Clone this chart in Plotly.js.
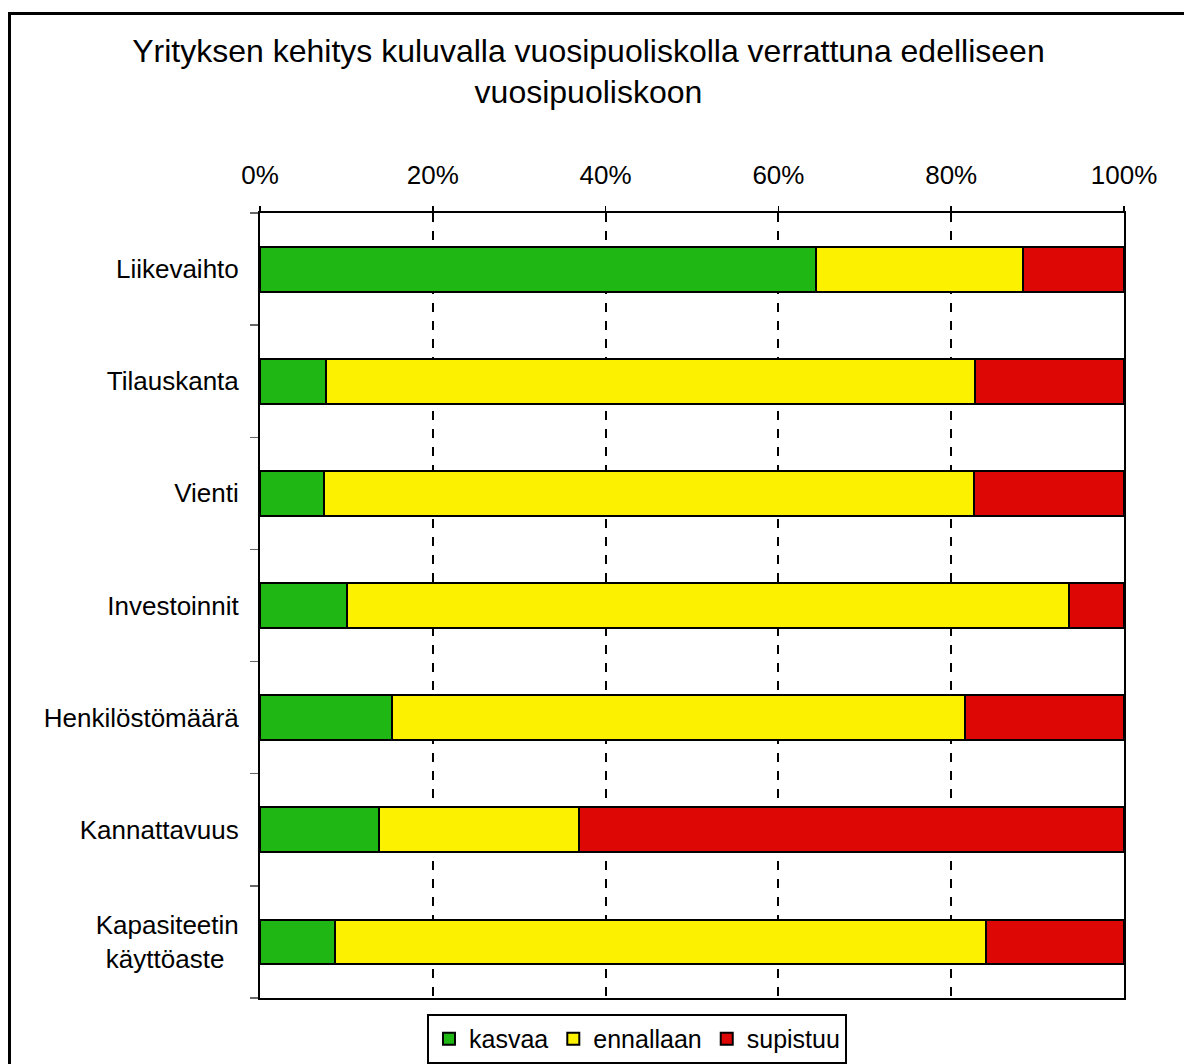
<!DOCTYPE html>
<html>
<head>
<meta charset="utf-8">
<script src="https://cdn.plot.ly/plotly-3.0.1.min.js"></script>
<style>
  html, body { margin: 0; padding: 0; background: #fff; }
  #frame { position: absolute; left: 8px; top: 12px; width: 1200px; height: 1100px; border: 3px solid #000; box-sizing: border-box; }
  #chart { position: absolute; left: 0; top: 0; width: 1184px; height: 1064px; }
</style>
</head>
<body>
<div id="frame"></div>
<div id="chart"></div>
<script>
const categories = ["Liikevaihto", "Tilauskanta", "Vienti", "Investoinnit", "Henkilöstömäärä", "Kannattavuus", "Kapasiteetin käyttöaste"];
const tickLabels = ["Liikevaihto", "Tilauskanta", "Vienti", "Investoinnit", "Henkilöstömäärä", "Kannattavuus", "Kapasiteetin<br>käyttöaste\u00a0\u00a0"];
const kasvaa    = [64.4, 7.6, 7.4, 10.1, 15.3, 13.8, 8.7];
const ennallaan = [23.9, 75.2, 75.2, 83.5, 66.3, 23.1, 75.3];
const supistuu  = [11.7, 17.2, 17.4, 6.4, 18.4, 63.1, 16.0];
const seriesNames = ["kasvaa", "ennallaan", "supistuu"];
const seriesColors = ["#1FB714", "#FCF200", "#DD0806"];
const seriesValues = [kasvaa, ennallaan, supistuu];

const fontFam = "Liberation Sans, Arial, Helvetica, sans-serif";

const traces = seriesValues.map((vals, i) => ({
  type: "bar",
  orientation: "h",
  name: seriesNames[i],
  y: categories,
  x: vals,
  width: 0.4,
  marker: { color: seriesColors[i], line: { color: "#000", width: 2 } },
  hoverinfo: "x+name"
}));

const layout = {
  width: 1184,
  height: 1064,
  barmode: "stack",
  paper_bgcolor: "rgba(0,0,0,0)",
  plot_bgcolor: "#fff",
  margin: { l: 260, r: 60, t: 213, b: 66, autoexpand: false },
  font: { family: fontFam, color: "#000", size: 24 },
  title: {
    text: "Yrityksen kehitys kuluvalla vuosipuoliskolla verrattuna edelliseen<br>vuosipuoliskoon",
    font: { family: fontFam, size: 32, color: "#000" },
    xref: "container", x: 0.497, xanchor: "center",
    yref: "container", y: 0.942, yanchor: "top"
  },
  xaxis: {
    side: "top",
    range: [0, 100],
    dtick: 20,
    ticksuffix: "%",
    ticks: "outside",
    ticklen: 5,
    tickwidth: 1.5,
    tickcolor: "#000",
    ticklabelstandoff: 12,
    showline: true,
    linecolor: "#000",
    linewidth: 2,
    mirror: true,
    showgrid: true,
    gridcolor: "#000",
    gridwidth: 2,
    griddash: "dash",
    zeroline: false,
    tickfont: { family: fontFam, size: 26, color: "#000" },
    fixedrange: true
  },
  yaxis: {
    type: "category",
    autorange: "reversed",
    tickson: "boundaries",
    tickmode: "array",
    tickvals: categories,
    ticktext: tickLabels,
    ticks: "outside",
    ticklen: 8,
    tickwidth: 1.5,
    tickcolor: "#666",
    showline: true,
    linecolor: "#000",
    linewidth: 2,
    mirror: true,
    showgrid: false,
    zeroline: false,
    ticklabelstandoff: 14,
    tickfont: { family: fontFam, size: 26, color: "#000" },
    fixedrange: true
  },
  legend: {
    orientation: "h",
    xref: "container", x: 0.538, xanchor: "center",
    yref: "container", y: 0.047, yanchor: "top",
    bordercolor: "#000",
    borderwidth: 2,
    bgcolor: "#fff",
    font: { family: fontFam, size: 25, color: "#000" },
    traceorder: "normal",
    itemclick: false
  },
  showlegend: true
};

Plotly.newPlot("chart", traces, layout, { displayModeBar: false, staticPlot: true });
</script>
</body>
</html>
